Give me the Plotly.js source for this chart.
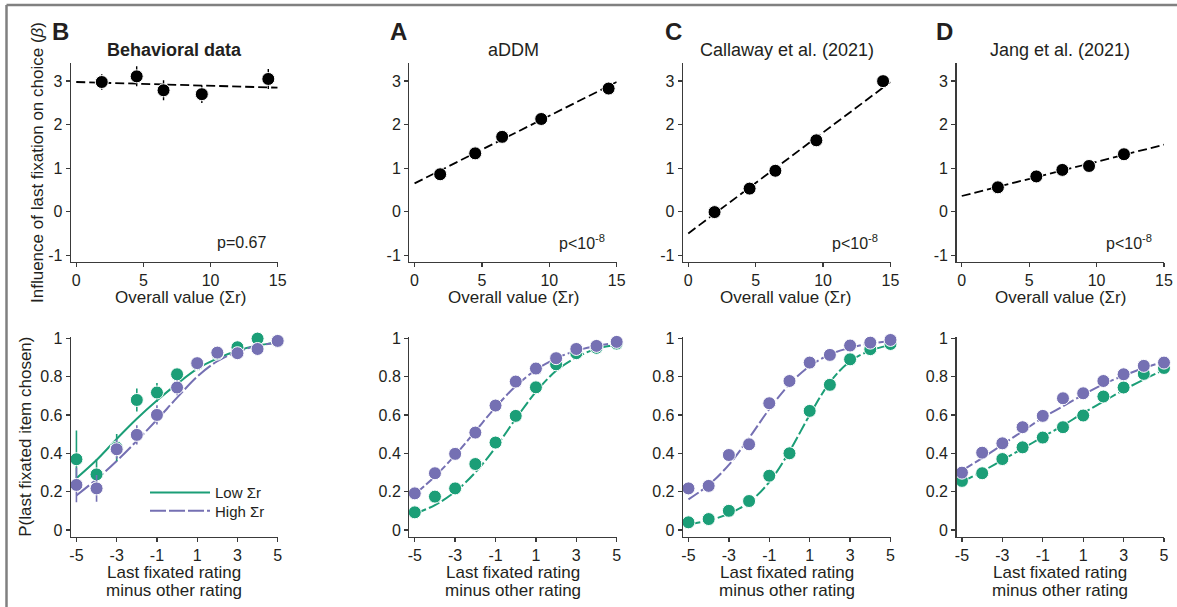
<!DOCTYPE html>
<html><head><meta charset="utf-8">
<script src="https://cdn.plot.ly/plotly-3.0.1.min.js"></script>
<style>html,body{margin:0;padding:0;background:#fff}#chart{width:1177px;height:607px}</style>
</head><body><div id="chart"></div>
<script>
// ---------- Top row: influence of last fixation (beta) vs overall value ----------
var fitX = [0, 15];
var topX_B = [1.9, 4.5, 6.5, 9.35, 14.3];
var topY_B = [2.98, 3.11, 2.79, 2.70, 3.05];
var topErr_B = [0.18, 0.23, 0.23, 0.2, 0.23];
var fitY_B = [2.98, 2.85];
var topX_A = [1.9, 4.5, 6.5, 9.4, 14.4];
var topY_A = [0.86, 1.34, 1.72, 2.13, 2.83];
var fitY_A = [0.65, 2.98];
var topX_C = [1.95, 4.55, 6.46, 9.5, 14.45];
var topY_C = [-0.01, 0.53, 0.94, 1.64, 3.0];
var fitY_C = [-0.5, 2.98];
var topX_D = [2.68, 5.53, 7.46, 9.44, 12.03];
var topY_D = [0.56, 0.81, 0.96, 1.05, 1.32];
var fitY_D = [0.36, 1.54];

var panelLetters = ['B', 'A', 'C', 'D'];
var panelTitles = ['<b>Behavioral data</b>', 'aDDM', 'Callaway et al. (2021)', 'Jang et al. (2021)'];
var pTexts = ['p=0.67', 'p&lt;10<sup>-8</sup>', 'p&lt;10<sup>-8</sup>', 'p&lt;10<sup>-8</sup>'];
var topXTitle = 'Overall value (Σr)';
var botXTitle = ['Last fixated rating', 'minus other rating'];
var topYTitle = 'Influence of last fixation on choice (<i>β</i>)';
var botYTitle = 'P(last fixated item chosen)';

// ---------- Bottom row: P(last fixated item chosen) vs rating difference ----------
var ratings = [-5, -4, -3, -2, -1, 0, 1, 2, 3, 4, 5];
var lowB = [0.369, 0.29, 0.43, 0.678, 0.717, 0.812, 0.865, 0.92, 0.953, 0.998, 0.985];
var lowErrB = [0.15, 0.08, 0.07, 0.06, 0.05, 0.03, 0.02, 0.02, 0.02, 0.02, 0.01];
var highB = [0.235, 0.217, 0.421, 0.496, 0.60, 0.743, 0.87, 0.925, 0.922, 0.944, 0.986];
var highErrB = [0.09, 0.07, 0.05, 0.05, 0.05, 0.04, 0.03, 0.02, 0.02, 0.02, 0.01];
var lowFitB = [0.27, 0.365, 0.475, 0.58, 0.675, 0.762, 0.84, 0.895, 0.935, 0.962, 0.978];
var highFitB = [0.18, 0.265, 0.36, 0.465, 0.575, 0.69, 0.8, 0.88, 0.93, 0.96, 0.978];

var lowA = [0.092, 0.174, 0.217, 0.344, 0.456, 0.595, 0.744, 0.864, 0.922, 0.95, 0.972];
var highA = [0.191, 0.296, 0.397, 0.508, 0.649, 0.774, 0.842, 0.896, 0.944, 0.96, 0.981];
var lowFitA = [0.085, 0.13, 0.2, 0.3, 0.43, 0.58, 0.72, 0.83, 0.9, 0.945, 0.965];
var highFitA = [0.185, 0.28, 0.39, 0.515, 0.64, 0.75, 0.835, 0.895, 0.935, 0.96, 0.975];

var lowC = [0.04, 0.057, 0.10, 0.151, 0.283, 0.40, 0.621, 0.757, 0.89, 0.943, 0.97];
var highC = [0.217, 0.23, 0.391, 0.447, 0.661, 0.777, 0.873, 0.913, 0.962, 0.977, 0.991];
var lowFitC = [0.03, 0.05, 0.085, 0.145, 0.25, 0.41, 0.6, 0.77, 0.88, 0.935, 0.965];
var highFitC = [0.16, 0.235, 0.34, 0.48, 0.63, 0.76, 0.855, 0.915, 0.95, 0.972, 0.985];

var lowD = [0.256, 0.296, 0.37, 0.431, 0.482, 0.536, 0.597, 0.696, 0.743, 0.814, 0.845];
var highD = [0.299, 0.403, 0.452, 0.536, 0.595, 0.687, 0.713, 0.777, 0.812, 0.856, 0.873];
var lowFitD = [0.25, 0.305, 0.365, 0.425, 0.485, 0.545, 0.61, 0.67, 0.73, 0.785, 0.835];
var highFitD = [0.31, 0.375, 0.445, 0.515, 0.585, 0.645, 0.705, 0.76, 0.805, 0.845, 0.878];

var seriesNames = ['Low Σr', 'High Σr'];
var topYTicks = [-1, 0, 1, 2, 3];
var topYLabels = ['-1', '0', '1', '2', '3'];
var topXTicks = [0, 5, 10, 15];
var topXLabels = ['0', '5', '10', '15'];
var botYTicks = [0, 0.2, 0.4, 0.6, 0.8, 1];
var botYLabels = ['0', '0.2', '0.4', '0.6', '0.8', '1'];
var botXTicks = [-5, -3, -1, 1, 3, 5];
var botXLabels = ['-5', '-3', '-1', '1', '3', '5'];

// ---------- styling ----------
var GREEN = '#1b9e77', PURPLE = '#7570b3', INK = '#231f20', AX = '#3a3a3a';
var FONT = 'Liberation Sans, Arial, Helvetica, sans-serif';
var W = 1177, H = 607;
var colPx = [[71, 277.7], [409.3, 616.7], [683, 890.5], [956.5, 1164]];
var topRowPx = [63.3, 261.7], botRowPx = [336.7, 536.7];
function px2x(p) { return p / W; }
function px2y(p) { return 1 - p / H; }

var traces = [];
var topData = [
  {x: topX_B, y: topY_B, err: topErr_B, fit: fitY_B},
  {x: topX_A, y: topY_A, fit: fitY_A},
  {x: topX_C, y: topY_C, fit: fitY_C},
  {x: topX_D, y: topY_D, fit: fitY_D}
];
var botData = [
  {lo: lowB, hi: highB, loE: lowErrB, hiE: highErrB, loF: lowFitB, hiF: highFitB, behav: true},
  {lo: lowA, hi: highA, loF: lowFitA, hiF: highFitA},
  {lo: lowC, hi: highC, loF: lowFitC, hiF: highFitC},
  {lo: lowD, hi: highD, loF: lowFitD, hiF: highFitD}
];

topData.forEach(function (d, i) {
  var xa = 'x' + (i === 0 ? '' : (i + 1)), ya = 'y' + (i === 0 ? '' : (i + 1));
  traces.push({x: fitX, y: d.fit, xaxis: xa, yaxis: ya, mode: 'lines', showlegend: false,
    line: {color: '#000', width: 1.8, dash: '9px,4px'}, hoverinfo: 'skip', cliponaxis: false});
  var t = {x: d.x, y: d.y, xaxis: xa, yaxis: ya, mode: 'markers', showlegend: false, cliponaxis: false,
    marker: {color: '#000', size: 13, line: {color: '#fff', width: 1}}};
  if (d.err) t.error_y = {type: 'data', array: d.err, visible: true, color: '#000', thickness: 1.4, width: 0};
  traces.push(t);
});

botData.forEach(function (d, i) {
  var n = i + 5;
  var xa = 'x' + n, ya = 'y' + n;
  traces.push({x: ratings, y: d.loF, xaxis: xa, yaxis: ya, mode: 'lines', name: seriesNames[0],
    showlegend: i === 0, legend: 'legend',
    line: {color: GREEN, width: 2, dash: d.behav ? 'solid' : '12px,3px', shape: 'spline', smoothing: 1},
    hoverinfo: 'skip', cliponaxis: false});
  traces.push({x: ratings, y: d.hiF, xaxis: xa, yaxis: ya, mode: 'lines', name: seriesNames[1],
    showlegend: i === 0, legend: 'legend2',
    line: {color: PURPLE, width: 2, dash: d.behav ? '16px,3px' : '12px,3px', shape: 'spline', smoothing: 1},
    hoverinfo: 'skip', cliponaxis: false});
  var g = {x: ratings, y: d.lo, xaxis: xa, yaxis: ya, mode: 'markers', name: seriesNames[0], showlegend: false,
    cliponaxis: false, marker: {color: GREEN, size: 13, line: {color: '#fff', width: 1}}};
  if (d.loE) g.error_y = {type: 'data', array: d.loE, visible: true, color: GREEN, thickness: 1.6, width: 0};
  var p = {x: ratings, y: d.hi, xaxis: xa, yaxis: ya, mode: 'markers', name: seriesNames[1], showlegend: false,
    cliponaxis: false, marker: {color: PURPLE, size: 13, line: {color: '#fff', width: 1}}};
  if (d.hiE) p.error_y = {type: 'data', array: d.hiE, visible: true, color: PURPLE, thickness: 1.6, width: 0};
  traces.push(g);
  traces.push(p);
});

var legendBase = {xanchor: 'left', yanchor: 'middle', bgcolor: 'rgba(0,0,0,0)',
  font: {size: 15, color: INK}, itemwidth: 60, tracegroupgap: 0, borderwidth: 0};
var layout = {
  width: W, height: H,
  margin: {l: 0, r: 0, t: 0, b: 0, pad: 0},
  paper_bgcolor: '#fff', plot_bgcolor: '#fff',
  font: {family: FONT, color: INK, size: 16},
  showlegend: true,
  legend: Object.assign({x: px2x(145), y: px2y(492.7)}, legendBase),
  legend2: Object.assign({x: px2x(145), y: px2y(511)}, legendBase),
  annotations: [], shapes: []
};

function baseAxis() {
  return {showline: true, linecolor: AX, linewidth: 1.3, ticks: 'outside', ticklen: 4, tickwidth: 1.3,
    tickcolor: AX, showgrid: false, zeroline: false, tickfont: {size: 16, color: INK}, fixedrange: true};
}

for (var k = 0; k < 8; k++) {
  var num = k + 1, isTopRow = k < 4, col = k % 4;
  var suf = (num === 1 ? '' : String(num));
  var xAx = baseAxis(), yAx = baseAxis();
  xAx.domain = [px2x(colPx[col][0]), px2x(colPx[col][1])];
  xAx.anchor = 'y' + suf;
  yAx.anchor = 'x' + suf;
  if (isTopRow) {
    yAx.domain = [px2y(topRowPx[1]), px2y(topRowPx[0])];
    xAx.range = [-0.39, 15]; xAx.tickvals = topXTicks; xAx.ticktext = topXLabels;
    yAx.range = [-1.15, 3.41]; yAx.tickvals = topYTicks; yAx.ticktext = topYLabels;
    if (col === 0) yAx.title = {text: topYTitle, font: {size: 17, color: INK}, standoff: 0};
  } else {
    yAx.domain = [px2y(botRowPx[1]), px2y(botRowPx[0])];
    xAx.range = [-5.27, 5]; xAx.tickvals = botXTicks; xAx.ticktext = botXLabels;
    yAx.range = [-0.035, 1.008]; yAx.tickvals = botYTicks; yAx.ticktext = botYLabels;
    if (col === 0) yAx.title = {text: botYTitle, font: {size: 17, color: INK}, standoff: 4};
  }
  layout['xaxis' + suf] = xAx; layout['yaxis' + suf] = yAx;
}

var letterX = [60, 398, 673, 945];
var topXTitlePx = [180, 513.6, 785.5, 1060];
for (var c = 0; c < 4; c++) {
  var cs = (c === 0 ? '' : String(c + 1));
  var bs = String(c + 5);
  layout.annotations.push({text: '<b>' + panelLetters[c] + '</b>', xref: 'paper', yref: 'paper',
    x: px2x(letterX[c]), y: px2y(31), xanchor: 'center', yanchor: 'middle', showarrow: false,
    font: {size: 24, color: INK}});
  layout.annotations.push({text: panelTitles[c], xref: 'x' + cs + ' domain', yref: 'paper',
    x: 0.5, y: px2y(50), xanchor: 'center', yanchor: 'middle', showarrow: false,
    font: {size: 18, color: INK}});
  layout.annotations.push({text: pTexts[c], xref: 'x' + cs, yref: 'y' + cs,
    x: 14.25, y: -0.7, xanchor: 'right', yanchor: 'middle', showarrow: false,
    font: {size: 16, color: INK}});
  // x-axis titles
  layout.annotations.push({text: topXTitle, xref: 'paper', yref: 'paper',
    x: px2x(topXTitlePx[c]), y: px2y(297), xanchor: 'center', yanchor: 'middle', showarrow: false,
    font: {size: 17, color: INK}});
  layout.annotations.push({text: botXTitle[0], xref: 'x' + bs + ' domain', yref: 'paper',
    x: 0.5, y: px2y(572), xanchor: 'center', yanchor: 'middle', showarrow: false,
    font: {size: 17, color: INK}});
  layout.annotations.push({text: botXTitle[1], xref: 'x' + bs + ' domain', yref: 'paper',
    x: 0.5, y: px2y(590), xanchor: 'center', yanchor: 'middle', showarrow: false,
    font: {size: 17, color: INK}});
}

// figure frame (grey border at top and left)
layout.shapes.push({type: 'line', xref: 'paper', yref: 'paper', x0: px2x(6.5), x1: 1, y0: px2y(5), y1: px2y(5),
  line: {color: '#808080', width: 2.5}});
layout.shapes.push({type: 'line', xref: 'paper', yref: 'paper', x0: px2x(6.5), x1: px2x(6.5), y0: 0, y1: px2y(5),
  line: {color: '#808080', width: 2.5}});

Plotly.newPlot('chart', traces, layout, {displayModeBar: false, staticPlot: true});
</script>
</body></html>
